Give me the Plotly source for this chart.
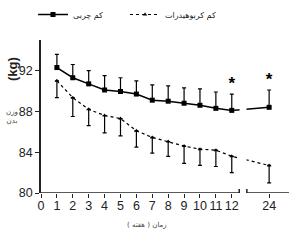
import plotly.graph_objects as go

weeks = [1, 2, 3, 4, 5, 6, 7, 8, 9, 10, 11, 12, 24]
tick_labels = ["0", "1", "2", "3", "4", "5", "6", "7", "8", "9", "10", "11", "12", "24"]
low_fat = [92.3, 91.3, 90.7, 90.1, 89.95, 89.7, 89.1, 89.0, 88.8, 88.6, 88.3, 88.1, 88.4]
low_fat_err = [1.3, 1.3, 1.3, 1.4, 1.35, 1.3, 1.5, 1.5, 1.5, 1.6, 1.6, 1.6, 1.7]
low_carb = [91.0, 89.35, 88.2, 87.6, 87.3, 86.1, 85.45, 85.05, 84.6, 84.3, 84.2, 83.6, 82.7]
low_carb_err = [1.65, 1.85, 1.6, 1.7, 1.7, 1.6, 1.55, 1.45, 1.7, 1.6, 1.6, 1.6, 1.7]
series_names = ["کم چربی", "کم کربوهیدرات"]
star_weeks = [12, 24]
star_y = [90.65, 91.05]

# axis break: week 24 is drawn right after a gap following week 12
BREAK_START, BREAK_END, POS_24, X_MAX = 12.47, 12.95, 14.35, 15.6


def xpos(w):
    return POS_24 if w == 24 else w


xs = [xpos(w) for w in weeks]
tickvals = list(range(0, 13)) + [POS_24]

fig = go.Figure()
fig.add_trace(go.Scatter(
    x=xs, y=low_fat, name=series_names[0], mode="lines+markers",
    line=dict(color="black", width=1.5),
    marker=dict(symbol="square", size=5, color="black"),
    error_y=dict(type="data", array=low_fat_err, arrayminus=[0] * len(weeks),
                 symmetric=False, color="black", thickness=1.2, width=2),
))
fig.add_trace(go.Scatter(
    x=xs, y=low_carb, name=series_names[1], mode="lines+markers",
    line=dict(color="black", width=1.2, dash="dot"),
    marker=dict(symbol="triangle-up", size=4, color="black"),
    error_y=dict(type="data", array=[0] * len(weeks), arrayminus=low_carb_err,
                 symmetric=False, color="black", thickness=1.2, width=2),
))
fig.add_trace(go.Scatter(
    x=[xpos(w) for w in star_weeks], y=star_y, mode="text", text=["<b>*</b>", "<b>*</b>"],
    textfont=dict(size=17, color="black", family="Liberation Sans"),
    showlegend=False, hoverinfo="skip",
))

shapes = [
    # gap cover
    dict(type="rect", xref="x", yref="y", x0=BREAK_START + 0.02, x1=BREAK_END - 0.02,
         y0=80.15, y1=95, fillcolor="white", line=dict(width=0), layer="above"),
    # x axis segments
    dict(type="line", xref="x", yref="y", x0=0, x1=BREAK_START, y0=80, y1=80,
         line=dict(color="#222", width=1.5), layer="above"),
    dict(type="line", xref="x", yref="y", x0=BREAK_END, x1=X_MAX, y0=80, y1=80,
         line=dict(color="#222", width=1.5), layer="above"),
    dict(type="line", xref="x", yref="y", x0=BREAK_START, x1=BREAK_START, y0=79.6, y1=80.4,
         line=dict(color="#222", width=1.5), layer="above"),
    dict(type="line", xref="x", yref="y", x0=BREAK_END, x1=BREAK_END, y0=79.6, y1=80.4,
         line=dict(color="#222", width=1.5), layer="above"),
]

fig.update_layout(
    width=300, height=248,
    margin=dict(l=41, r=11, t=27, b=55),
    paper_bgcolor="white", plot_bgcolor="white",
    font=dict(family="Liberation Sans", color="#222"),
    shapes=shapes,
    showlegend=True,
    legend=dict(orientation="h", xref="container", yref="container", x=0.11, y=1.0,
                xanchor="left", yanchor="top", font=dict(size=8, family="DejaVu Sans"),
                itemwidth=30, entrywidth=47, bgcolor="rgba(0,0,0,0)"),
    xaxis=dict(range=[0, X_MAX], tickvals=tickvals, ticktext=tick_labels,
               showline=False, showgrid=False, zeroline=False, tickangle=0,
               ticks="outside", ticklen=4, tickwidth=1.2, tickcolor="#222",
               ticklabelstandoff=-3, tickfont=dict(size=12.5)),
    yaxis=dict(range=[80, 95], tickvals=[80, 84, 88, 92], showline=True,
               linecolor="#222", linewidth=1.5, showgrid=False, zeroline=False,
               ticks="outside", ticklen=4, tickwidth=1.2, tickcolor="#222",
               tickfont=dict(size=12.5)),
    annotations=[
        dict(text="<b>(kg)</b>", xref="paper", yref="paper", x=-0.117, y=0.81,
             xanchor="center", yanchor="middle",
             textangle=-90, showarrow=False, font=dict(size=13, color="#222")),
        dict(text="وزن<br>بدن", xref="paper", yref="paper", x=-0.117, y=0.5,
             xanchor="center", yanchor="middle",
             showarrow=False, font=dict(size=7, family="DejaVu Sans", color="#444")),
        dict(text="زمان ( هفته )", xref="paper", yref="paper", x=0.427, y=-0.21,
             xanchor="center", yanchor="middle",
             showarrow=False, font=dict(size=7, family="DejaVu Sans", color="#444")),
    ],
)

fig.write_html("out.html")
